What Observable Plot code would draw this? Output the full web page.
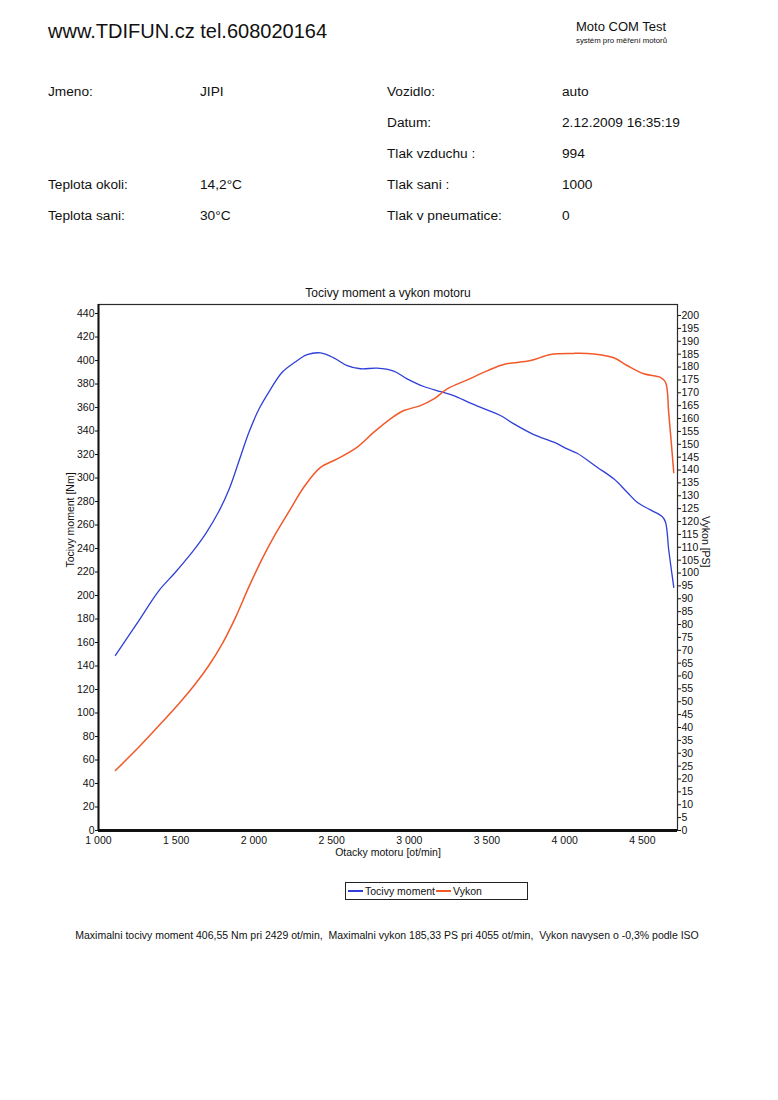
<!DOCTYPE html>
<html>
<head>
<meta charset="utf-8">
<script src="https://cdn.jsdelivr.net/npm/d3@7"></script>
<script src="https://cdn.jsdelivr.net/npm/@observablehq/plot@0.6"></script>
<style>
  html, body { margin: 0; padding: 0; background: #fff; }
  body { width: 778px; height: 1100px; position: relative; font-family: "Liberation Sans", Arial, sans-serif; color: #111; overflow: hidden; }
  .abs { position: absolute; white-space: pre; line-height: 1; }
  #chart { position: absolute; left: 0; top: 280px; }
  #legend { position: absolute; left: 345px; top: 882px; width: 179px; height: 16px; border: 1px solid #222; display: flex; align-items: center; justify-content: flex-start; padding-left: 2px; font-size: 10.5px; }
  #legend .sw { display: inline-block; width: 15px; height: 1.6px; margin: 0 2px 0 0; }
  #legend .tx { margin-right: 1px; }
</style>
</head>
<body>
<div class="abs" style="left:48px;top:21px;font-size:20px;">www.TDIFUN.cz tel.608020164</div>
<div class="abs" style="left:576px;top:20px;font-size:13px;">Moto COM Test</div>
<div class="abs" style="left:576px;top:37px;font-size:7.8px;">systém pro měření motorů</div>
<div id="info"></div>
<div class="abs" id="title" style="left:0;width:776px;text-align:center;top:287px;font-size:12px;">Tocivy moment a vykon motoru</div>
<div id="chart"></div>
<div id="legend"></div>
<div class="abs" id="caption" style="left:0;width:774px;text-align:center;top:930px;font-size:10.5px;"></div>
<script>
// ---- info table ----
const infoLeftLabels  = ["Jmeno:", "", "", "Teplota okoli:", "Teplota sani:"];
const infoLeftValues  = ["JIPI", "", "", "14,2°C", "30°C"];
const infoRightLabels = ["Vozidlo:", "Datum:", "Tlak vzduchu :", "Tlak sani :", "Tlak v pneumatice:"];
const infoRightValues = ["auto", "2.12.2009 16:35:19", "994", "1000", "0"];

// ---- series ----
const torqueRpm = [1109,1260,1388,1495,1603,1689,1774,1839,1903,1967,2032,2107,2182,2263,2343,2429,2514,2600,2686,2793,2900,2986,3093,3201,3286,3394,3500,3587,3673,3801,3930,4016,4080,4209,4316,4402,4466,4552,4627,4649,4670,4702];
const torqueNm  = [149,178.7,204,219.8,236.9,252.5,271.5,290,314,338.5,358.5,375.5,390,398.5,405,406.5,402.3,395.7,393,393.5,391,384.4,377.9,373.6,370.2,363.7,358,353.2,346.1,337,330.5,324.8,321.1,309.2,299.3,287.9,279.4,272.9,267.2,262.4,238.3,207];
const powerRpm  = [1109,1260,1410,1517,1624,1710,1796,1882,1967,2053,2139,2236,2321,2429,2536,2665,2772,2879,2965,3072,3158,3244,3373,3500,3608,3780,3909,4055,4187,4316,4402,4509,4616,4649,4670,4702];
const powerPs   = [23.3,32.4,42.1,49.2,57,64.1,72.5,82.8,94.5,105.5,115.2,124.9,133.3,141,144.3,148.9,154.7,159.9,163.1,165,167.6,171.5,175,178.5,181,182.5,184.9,185.3,185.1,183.6,180.6,177.4,176,174.1,161.8,139];

// ---- ticks & labels ----
const xTicks = [1000,1500,2000,2500,3000,3500,4000,4500];
const torqueTicks = d3.range(0, 441, 20);
const powerTicks = d3.range(0, 201, 5);
const seriesNames = ["Tocivy moment", "Vykon"];
const seriesColors = ["#2f3fd8", "#f2592a"];
const axisTitles = { x: "Otacky motoru [ot/min]", yLeft: "Tocivy moment [Nm]", yRight: "Vykon [PS]" };
const captionText = "Maximalni tocivy moment 406,55 Nm pri 2429 ot/min,  Maximalni vykon 185,33 PS pri 4055 ot/min,  Vykon navysen o -0,3% podle ISO";

// info table DOM
const info = document.getElementById("info");
const rowTops = [85, 116, 147, 178, 209];
const cols = [48, 200, 387, 562];
rowTops.forEach((t, i) => {
  [infoLeftLabels[i], infoLeftValues[i], infoRightLabels[i], infoRightValues[i]].forEach((s, j) => {
    if (!s) return;
    const d = document.createElement("div");
    d.className = "abs";
    d.style.left = cols[j] + "px";
    d.style.top = t + "px";
    d.style.fontSize = "13.7px";
    d.textContent = s;
    info.appendChild(d);
  });
});

document.getElementById("caption").textContent = captionText;

// legend
const lg = document.getElementById("legend");
seriesNames.forEach((n, i) => {
  const sw = document.createElement("span");
  sw.className = "sw";
  sw.style.background = seriesColors[i];
  const tx = document.createElement("span");
  tx.className = "tx";
  tx.textContent = n;
  lg.appendChild(sw);
  lg.appendChild(tx);
});

// ---- chart ----
const yMax = 447.7;          // torque domain top
const k = 2.1915;            // Nm-units per PS on shared vertical scale
const torqueData = torqueRpm.map((r, i) => ({rpm: r, v: torqueNm[i]}));
const powerData = powerRpm.map((r, i) => ({rpm: r, v: powerPs[i] * k}));
const fmtX = d => d >= 1000 ? Math.floor(d / 1000) + " " + String(d % 1000).padStart(3, "0") : String(d);

const chart = Plot.plot({
  width: 778,
  height: 586,
  marginLeft: 98,
  marginRight: 101,
  marginTop: 24,
  marginBottom: 36,
  x: {domain: [1000, 4726]},
  y: {domain: [0, yMax]},
  style: {fontFamily: "'Liberation Sans', Arial, sans-serif", fontSize: "11px", color: "#111", background: "transparent"},
  marks: [
    Plot.frame({stroke: "#2a2a2a", strokeWidth: 1.2}),
    Plot.ruleX([1000], {stroke: "#111", strokeWidth: 2}),
    Plot.ruleY([0], {stroke: "#111", strokeWidth: 3}),
    Plot.axisX({ticks: xTicks, tickFormat: fmtX, tickSize: 0, tickPadding: 6, label: null, fontSize: 10.5}),
    Plot.axisY({anchor: "left", ticks: torqueTicks, tickSize: 3, tickPadding: 1, label: null, fontSize: 10.5}),
    Plot.axisY({anchor: "right", ticks: powerTicks.map(p => p * k), tickFormat: d => String(Math.round(d / k)), tickSize: 3, tickPadding: 1, label: null, fontSize: 10.5}),
    Plot.text([axisTitles.x], {frameAnchor: "bottom", dy: 25, fontSize: 10.5}),
    Plot.text([axisTitles.yLeft], {frameAnchor: "left", dx: -28, rotate: -90, fontSize: 10.5}),
    Plot.text([axisTitles.yRight], {frameAnchor: "right", dx: 28, rotate: 90, fontSize: 10.5}),
    Plot.line(torqueData, {x: "rpm", y: "v", stroke: seriesColors[0], strokeWidth: 1.3, curve: "catmull-rom"}),
    Plot.line(powerData, {x: "rpm", y: "v", stroke: seriesColors[1], strokeWidth: 1.5, curve: "catmull-rom"})
  ]
});
document.getElementById("chart").appendChild(chart);
</script>
</body>
</html>
